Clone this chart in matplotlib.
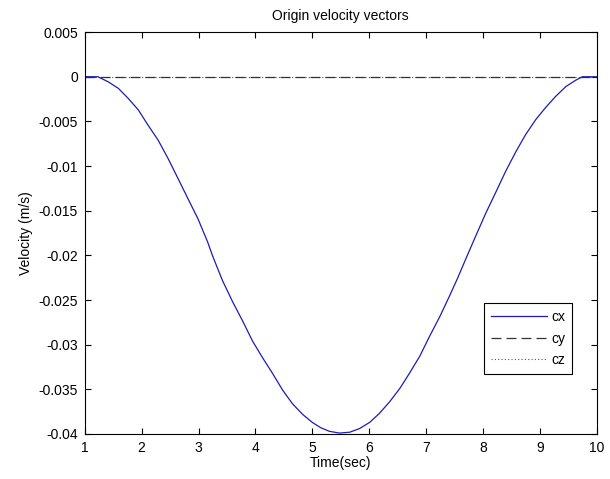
import matplotlib.pyplot as plt

plt.rcParams["font.family"] = ["Liberation Sans", "DejaVu Sans"]
plt.rcParams["font.size"] = 10

# ------------------------------------
# Velocity samples of the origin point
# ------------------------------------
time_sec = [1.0, 1.1, 1.23, 1.41, 1.59, 1.76, 1.94, 2.11, 2.29, 2.46, 2.64,
            2.81, 2.99, 3.16, 3.25, 3.42, 3.60, 3.78, 3.95, 4.13, 4.30, 4.48,
            4.65, 4.83, 5.0, 5.15, 5.3, 5.48, 5.66, 5.83, 6.01, 6.18, 6.36,
            6.54, 6.71, 6.89, 7.06, 7.24, 7.41, 7.56, 7.70, 7.87, 8.05, 8.23,
            8.40, 8.58, 8.75, 8.93, 9.11, 9.28, 9.46, 9.63, 9.75, 9.9, 10.0]
cx = [0.0, 0.0, 0.0, -0.00056, -0.0013, -0.0024, -0.0037, -0.0054, -0.0071,
      -0.0091, -0.0114, -0.0136, -0.0159, -0.0185, -0.0201, -0.0228, -0.0252,
      -0.0274, -0.0296, -0.0315, -0.0332, -0.0351, -0.0366, -0.0378, -0.0387,
      -0.0393, -0.0397, -0.0399, -0.0398, -0.0394, -0.0387, -0.0377, -0.0364,
      -0.0349, -0.0332, -0.0313, -0.0291, -0.0269, -0.0246, -0.0225, -0.0204,
      -0.0179, -0.0153, -0.0129, -0.0106, -0.0084, -0.0065, -0.0048, -0.0034,
      -0.0022, -0.0011, -0.0004, 0.0, 0.0, 0.0]
cy = [0.0] * len(time_sec)
cz = [0.0] * len(time_sec)

x_ticks = [1, 2, 3, 4, 5, 6, 7, 8, 9, 10]
y_ticks = [0.005, 0, -0.005, -0.01, -0.015, -0.02, -0.025, -0.03, -0.035, -0.04]
y_tick_labels = ["0.005", "0", "-0.005", "-0.01", "-0.015", "-0.02",
                 "-0.025", "-0.03", "-0.035", "-0.04"]

# ------------------------------------
# Plot
# ------------------------------------
fig = plt.figure(figsize=(6.1, 4.79), dpi=100)
ax = fig.add_axes([0.139, 0.094, 0.839, 0.839])

ax.plot(time_sec, cz, color="#555555", linewidth=0.8, linestyle=(0, (1, 2)), label="cz")
ax.plot(time_sec, cy, color="#333333", linewidth=0.9, linestyle=(0, (8, 4)), label="cy")
ax.plot(time_sec, cx, color="#1c1cb4", linewidth=0.9, label="cx")

ax.set_xlim(1, 10)
ax.set_ylim(-0.04, 0.005)
ax.set_xticks(x_ticks)
ax.set_yticks(y_ticks)
ax.set_yticklabels(y_tick_labels)
ax.tick_params(direction="in", top=True, right=True, length=4, width=0.8,
               labelsize=10, pad=5)
for spine in ax.spines.values():
    spine.set_linewidth(0.8)

ax.set_title("Origin velocity vectors", fontsize=10, pad=9)
ax.set_xlabel("Time(sec)", fontsize=10, labelpad=1)
ax.set_ylabel("Velocity (m/s)", fontsize=10, labelpad=4)

handles, labels = ax.get_legend_handles_labels()
order = [2, 1, 0]
leg = ax.legend([handles[i] for i in order], [labels[i] for i in order],
                loc="upper left", bbox_to_anchor=(0.781, 0.326), fontsize=10,
                fancybox=False, framealpha=1, edgecolor="black",
                handlelength=4.0, handletextpad=0.3, borderpad=0.5,
                labelspacing=0.55, borderaxespad=0)
leg.get_frame().set_linewidth(0.8)

plt.savefig("out.png", dpi=100)
plt.close()
